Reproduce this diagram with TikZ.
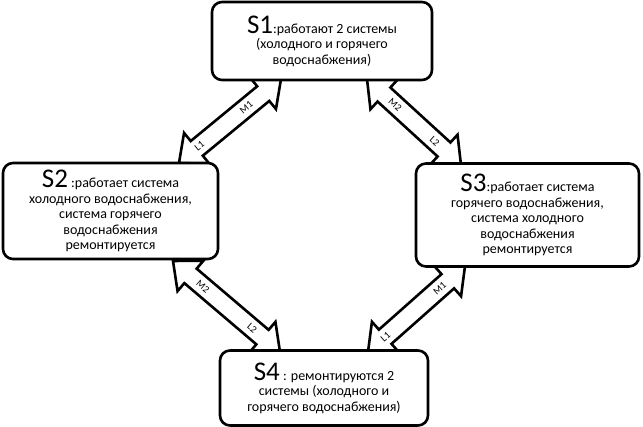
\documentclass[tikz,border=0pt]{standalone}
\usepackage{fontspec}
\setmainfont{Carlito}
\usetikzlibrary{calc}
\newcommand\blockarr[2]{%
  \path ($(#1)!23pt!(#2)$) coordinate (h1) ($(#2)!23pt!(#1)$) coordinate (h2);
  \draw[barrow] (#1) -- ($(h1)!20pt!90:(#2)$) -- ($(h1)!9.5pt!90:(#2)$)
    -- ($(h2)!9.5pt!-90:(#1)$) -- ($(h2)!20pt!-90:(#1)$) -- (#2)
    -- ($(h2)!20pt!90:(#1)$) -- ($(h2)!9.5pt!90:(#1)$)
    -- ($(h1)!9.5pt!-90:(#2)$) -- ($(h1)!20pt!-90:(#2)$) -- cycle;}
\begin{document}
\begin{tikzpicture}[x=1pt,y=-1pt,
  box/.style={draw, line width=2.6pt, rounded corners=10pt, fill=white, align=center,
    inner sep=0pt, font=\fontsize{14}{15.5}\selectfont},
  barrow/.style={draw, fill=white, line width=2.6pt, line join=miter},
  lab/.style={font=\fontsize{10}{10}\selectfont, inner sep=0pt}]
\useasboundingbox (0,0) rectangle (643,427);
% arrow end points
\coordinate (a12) at (179,163);
\coordinate (b12) at (281,79);
\coordinate (a13) at (367,79);
\coordinate (b13) at (461,165);
\coordinate (a24) at (173,261);
\coordinate (b24) at (280,352);
\coordinate (a34) at (465,266);
\coordinate (b34) at (368,352);
\blockarr{a12}{b12}
\blockarr{a13}{b13}
\blockarr{a24}{b24}
\blockarr{a34}{b34}
\path (a12) -- node[lab, pos=0.2, sloped] {L1} node[lab, pos=0.66, sloped] {M1} (b12);
\path (a13) -- node[lab, pos=0.3, sloped] {M2} node[lab, pos=0.72, sloped] {L2} (b13);
\path (a24) -- node[lab, pos=0.28, sloped] {M2} node[lab, pos=0.74, sloped] {L2} (b24);
\path (a34) -- node[lab, pos=0.26, sloped] {M1} node[lab, pos=0.82, sloped] {L1} (b34);
% boxes
\node[box, minimum width=220pt, minimum height=78pt] (s1) at (322,41)
  {{\fontsize{27}{27}\selectfont S1}:работают 2 системы\\(холодного и горячего\\водоснабжения)};
\node[box, minimum width=215pt, minimum height=96pt] (s2) at (110.5,211)
  {{\fontsize{27}{27}\selectfont S2} :работает система\\холодного водоснабжения,\\система горячего\\водоснабжения\\ремонтируется};
\node[box, minimum width=223pt, minimum height=103pt] (s3) at (527.5,215)
  {{\fontsize{27}{27}\selectfont S3}:работает система\\горячего водоснабжения,\\система холодного\\водоснабжения\\ремонтируется};
\node[box, minimum width=208pt, minimum height=75pt] (s4) at (324,388)
  {{\fontsize{27}{27}\selectfont S4} : ремонтируются 2\\системы (холодного и\\горячего водоснабжения)};
\end{tikzpicture}
\end{document}
